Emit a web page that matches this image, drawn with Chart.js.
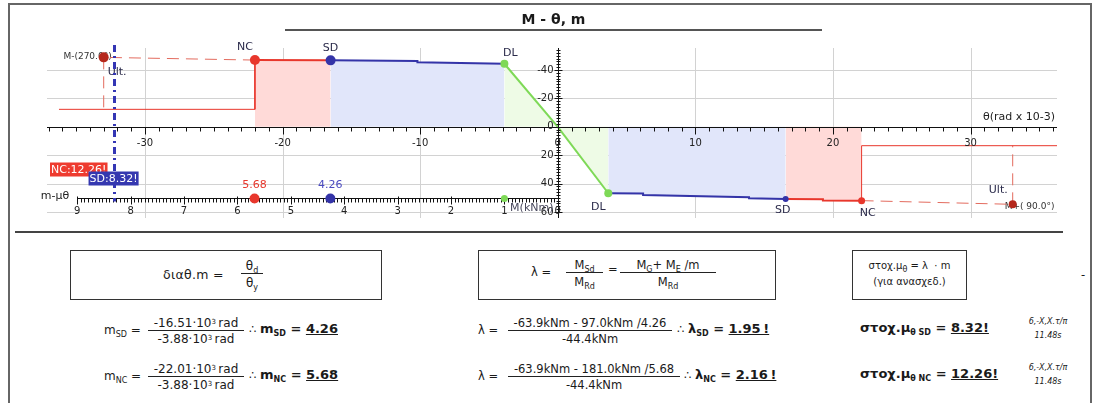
<!DOCTYPE html>
<html>
<head>
<meta charset="utf-8">
<script src="https://cdn.jsdelivr.net/npm/chart.js@4.4.1/dist/chart.umd.min.js"></script>
<style>
body{margin:0;width:1099px;height:403px;overflow:hidden;position:relative;background:#fff;font-family:"DejaVu Sans",sans-serif;color:#1a1a1a}
#frame{position:absolute;left:8px;top:3px;width:1084px;height:430px;border:2px solid #666;box-sizing:border-box}
#c{position:absolute;left:0;top:0}
#title{position:absolute;left:285px;top:10px;width:537px;height:19px;border-bottom:2px solid #555;text-align:center;font-weight:bold;font-size:14px;line-height:19px}
#sep{position:absolute;left:15px;top:231px;width:1048px;height:2px;background:#444}
.box{position:absolute;border:1px solid #333;box-sizing:border-box;top:250px;height:50px}
.t{position:absolute;white-space:nowrap;font-size:11.5px;line-height:14px}
.fr{position:absolute;text-align:center;font-size:11.5px;white-space:nowrap}
.fr div{line-height:14px;height:14px}
.fr .n{border-bottom:1px solid #222}
.fr.big12{font-size:12px}
sup{font-size:7px;vertical-align:top;position:relative;top:-1px}
sub{font-size:8px;vertical-align:baseline;position:relative;top:3px}
b{font-size:13px}
.big{font-size:13px;font-weight:bold}
.sm{position:absolute;font-style:italic;font-size:8px;line-height:14px;text-align:center;white-space:nowrap}
</style>
</head>
<body>
<div id="frame"></div>
<canvas id="c" width="1099" height="240"></canvas>
<div id="title">M - θ, m</div>
<div id="sep"></div>

<!-- definition boxes -->
<div class="box" style="left:70px;width:312px"></div>
<div class="t" style="left:163px;top:268px;font-size:12.5px;letter-spacing:0.3px">διαθ.m =</div>
<div class="fr" style="left:241px;top:259px;width:22px;font-size:12px"><div class="n">θ<sub>d</sub></div><div style="padding-top:2px">θ<sub>y</sub></div></div>

<div class="box" style="left:478px;width:298px"></div>
<div class="t" style="left:531px;top:265px">λ =</div>
<div class="fr" style="left:566px;top:258px;width:37px"><div class="n">M<sub>Sd</sub></div><div style="padding-top:2px">M<sub>Rd</sub></div></div>
<div class="t" style="left:608px;top:262px">=</div>
<div class="fr" style="left:620px;top:258px;width:96px"><div class="n">M<sub>G</sub>+ M<sub>E</sub> /m</div><div style="padding-top:2px">M<sub>Rd</sub></div></div>

<div class="box" style="left:852px;width:115px"></div>
<div class="t" style="left:852px;width:115px;text-align:center;top:259px;font-size:10px">στοχ.μ<sub>θ</sub> = λ &nbsp;· m</div>
<div class="t" style="left:852px;width:115px;text-align:center;top:275px;font-size:10px">(για ανασχεδ.)</div>
<div class="t" style="left:1081px;top:268px">-</div>

<!-- m rows -->
<div class="t" style="left:104px;top:323px;font-size:12px">m<sub>SD</sub> =</div>
<div class="fr big12" style="left:148px;top:316px;width:96px"><div class="n">-16.51·10<sup>3</sup>&thinsp;rad</div><div style="padding-top:1px">-3.88·10<sup>3</sup>&thinsp;rad</div></div>
<div class="t" style="left:249px;top:322px">∴ <b>m<sub>SD</sub> = <u>4.26</u></b></div>

<div class="t" style="left:104px;top:369px;font-size:12px">m<sub>NC</sub> =</div>
<div class="fr big12" style="left:148px;top:362px;width:96px"><div class="n">-22.01·10<sup>3</sup>&thinsp;rad</div><div style="padding-top:1px">-3.88·10<sup>3</sup>&thinsp;rad</div></div>
<div class="t" style="left:249px;top:368px">∴ <b>m<sub>NC</sub> = <u>5.68</u></b></div>

<!-- lambda rows -->
<div class="t" style="left:478px;top:323px">λ =</div>
<div class="fr" style="left:508px;top:316px;width:164px"><div class="n">-63.9kNm - 97.0kNm /4.26</div><div style="padding-top:1px">-44.4kNm</div></div>
<div class="t" style="left:677px;top:322px">∴ <b>λ<sub>SD</sub> = <u>1.95&thinsp;!</u></b></div>

<div class="t" style="left:478px;top:369px">λ =</div>
<div class="fr" style="left:508px;top:362px;width:172px"><div class="n">-63.9kNm - 181.0kNm /5.68</div><div style="padding-top:1px">-44.4kNm</div></div>
<div class="t" style="left:684px;top:368px">∴ <b>λ<sub>NC</sub> = <u>2.16&thinsp;!</u></b></div>

<!-- target ductility rows -->
<div class="t big" style="left:860px;top:321px">στοχ.μ<sub>θ SD</sub> = <u>8.32!</u></div>
<div class="t big" style="left:860px;top:367px">στοχ.μ<sub>θ NC</sub> = <u>12.26!</u></div>
<div class="sm" style="left:1027px;top:315px;width:42px">6,-X,X.τ/π<br>11.48s</div>
<div class="sm" style="left:1027px;top:361px;width:42px">6,-X,X.τ/π<br>11.48s</div>

<script>
// θ in rad x 10-3, M in kNm
const thetaY = -3.88; // m = θ / θy

// origin -> DL (elastic branch)
const elasticThetaNeg = [0, -3.88];
const elasticMNeg = [0, -44.4];
const elasticThetaPos = [0, 3.67];
const elasticMPos = [0, 46.8];

// DL -> SD
const sdThetaNeg = [-3.88, -10.2, -10.2, -16.51];
const sdMNeg = [-44.4, -45.4, -46.3, -46.8];
const sdThetaPos = [3.67, 6.2, 6.2, 13.9, 13.9, 16.56];
const sdMPos = [46.8, 47.0, 48.0, 49.6, 50.3, 50.8];

// SD -> NC
const ncThetaNeg = [-16.51, -22.01];
const ncMNeg = [-46.8, -47.0];
const ncThetaPos = [16.56, 19.27, 19.27, 22.08];
const ncMPos = [50.8, 51.0, 51.9, 52.0];

// residual branch after NC
const resThetaNeg = [-22.01, -22.01, -36.25];
const resMNeg = [-47.0, -12.3, -12.3];
const resThetaPos = [22.08, 22.08, 36.3];
const resMPos = [52.0, 13.3, 13.3];

// ultimate points
const ultTheta = [-33.0, 33.06];
const ultM = [-48.9, 54.6];
const ultLabels = ['M-(270.0°)', 'M+( 90.0°)'];

// limit state points
const stateNames = ['DL', 'SD', 'NC', 'DL', 'SD', 'NC'];
const stateTheta = [-3.88, -16.51, -22.01, 3.67, 16.56, 22.08];
const stateM = [-44.4, -46.8, -47.0, 46.8, 50.8, 52.0];

// axes
const thetaGrid = [-30, -20, -10, 10, 20, 30];
const thetaLabels = [-30, -20, -10, 0, 10, 20, 30];
const momentGrid = [-40, -20, 20, 40, 60];
const momentLabels = [-40, -20, 0, 20, 40, 60];
const mLabels = [9, 8, 7, 6, 5, 4, 3, 2, 1, 0];

// m - μθ axis
const mStateValues = [5.68, 4.26, 1];
const mStateLabels = ['5.68', '4.26', ''];
const targetNames = ['NC', 'SD'];
const targetValues = [12.26, 8.32];

const RED = '#E8372C', BLUE = '#3434A8', GREEN = '#7ED957';
const PINK_FILL = '#FFDAD8', BLUE_FILL = '#E1E6FA', GREEN_FILL = '#EEFBE6';
const DASH_RED = '#E36B5E', ULT_RED = '#B5281C';

const seg = (xs, ys) => xs.map((v, i) => ({x: v, y: ys[i]}));
const fillSet = (xs, ys, color) => ({data: seg(xs, ys), fill: 'origin', backgroundColor: color,
  borderWidth: 0, borderColor: color, pointRadius: 0, order: 10});
const lineSet = (xs, ys, color, width, dash) => ({data: seg(xs, ys), fill: false, borderColor: color,
  borderWidth: width, borderDash: dash || [], pointRadius: 0, order: 5});

const datasets = [
  fillSet(elasticThetaNeg, elasticMNeg, GREEN_FILL),
  fillSet(sdThetaNeg, sdMNeg, BLUE_FILL),
  fillSet(ncThetaNeg, ncMNeg, PINK_FILL),
  fillSet(elasticThetaPos, elasticMPos, GREEN_FILL),
  fillSet(sdThetaPos, sdMPos, BLUE_FILL),
  fillSet(ncThetaPos, ncMPos, PINK_FILL),
  lineSet(resThetaNeg, resMNeg, RED, 1),
  lineSet(resThetaPos, resMPos, RED, 1),
  lineSet([ncThetaNeg[1], ultTheta[0]], [ncMNeg[1], ultM[0]], DASH_RED, 1, [12, 7]),
  lineSet([ultTheta[0], ultTheta[0]], [ultM[0], resMNeg[2]], DASH_RED, 1, [12, 7]),
  lineSet([ncThetaPos[3], ultTheta[1]], [ncMPos[3], ultM[1]], DASH_RED, 1, [12, 7]),
  lineSet([ultTheta[1], ultTheta[1]], [ultM[1], resMPos[2]], DASH_RED, 1, [12, 7]),
  lineSet(elasticThetaNeg, elasticMNeg, GREEN, 2),
  lineSet(elasticThetaPos, elasticMPos, GREEN, 2),
  lineSet(sdThetaNeg, sdMNeg, BLUE, 2),
  lineSet(sdThetaPos, sdMPos, BLUE, 2),
  lineSet(ncThetaNeg, ncMNeg, RED, 2),
  lineSet(ncThetaPos, ncMPos, RED, 2),
  {data: seg(stateTheta, stateM), showLine: false, order: 1,
   pointRadius: [4, 5, 5, 4, 3, 3.5], pointBorderWidth: 0,
   pointBackgroundColor: [GREEN, BLUE, RED, GREEN, BLUE, RED]},
  {data: seg(ultTheta, ultM), showLine: false, order: 1,
   pointRadius: [5, 4], pointBorderWidth: 0, pointBackgroundColor: ULT_RED}
];

// label offsets of the limit states, relative to their points
const stateLabelOffsets = [[6, -11], [0, -12], [-10, -13], [-10, 14], [-3, 11], [6, 12]];

const mThetaPlugin = {
  id: 'mTheta',
  beforeDatasetsDraw(chart) {
    const {ctx, chartArea: a, scales: {x, y}} = chart;
    ctx.save();
    // grid
    ctx.strokeStyle = '#d2d2d2';
    ctx.lineWidth = 1;
    ctx.beginPath();
    thetaGrid.forEach(v => {
      const px = Math.round(x.getPixelForValue(v)) + 0.5;
      ctx.moveTo(px, a.top);
      ctx.lineTo(px, a.bottom + 6);
    });
    momentGrid.forEach(v => {
      const py = Math.round(y.getPixelForValue(v)) + 0.5;
      ctx.moveTo(a.left, py);
      ctx.lineTo(a.right, py);
    });
    ctx.stroke();

    // ultimate point labels (points are drawn over them)
    ctx.font = '9px "DejaVu Sans"';
    ctx.fillStyle = '#333';
    ctx.textBaseline = 'middle';
    ultLabels.forEach((text, i) => {
      const px = x.getPixelForValue(ultTheta[i]);
      const py = y.getPixelForValue(ultM[i]);
      if (i === 0) { ctx.textAlign = 'right'; ctx.fillText(text, px + 8, py - 1); }
      else { ctx.textAlign = 'left'; ctx.fillText(text, px - 8, py + 2); }
    });
    ctx.restore();
  },
  afterDatasetsDraw(chart) {
    const {ctx, chartArea: a, scales: {x, y}} = chart;
    const x0 = Math.round(x.getPixelForValue(0)) + 0.5;
    const y0 = Math.round(y.getPixelForValue(0)) + 0.5;
    const mPx = m => x.getPixelForValue(m * thetaY);
    const mY = y0 + 71;
    ctx.save();

    // θ axis and M axis
    ctx.strokeStyle = '#111';
    ctx.lineWidth = 1;
    ctx.beginPath();
    ctx.moveTo(a.left, y0);
    ctx.lineTo(a.right, y0);
    for (let v = Math.ceil(x.min); v <= x.max; v++) {
      const px = Math.round(x.getPixelForValue(v)) + 0.5;
      ctx.moveTo(px, y0);
      ctx.lineTo(px, y0 + (v % 10 === 0 ? 7 : 4));
    }
    ctx.moveTo(x0, a.top);
    ctx.lineTo(x0, a.bottom + 6);
    for (let v = -54; v <= 60; v += 2) {
      const py = Math.round(y.getPixelForValue(v)) + 0.5;
      const len = v % 20 === 0 ? 4 : 2;
      ctx.moveTo(x0 - len, py);
      ctx.lineTo(x0 + len, py);
    }
    // m axis
    ctx.moveTo(mPx(9), mY);
    ctx.lineTo(x0, mY);
    for (let i = 0; i <= 135; i++) {
      const px = Math.round(mPx(i / 15)) + 0.5;
      const major = i % 15 === 0;
      ctx.moveTo(px, mY - (major ? 2 : 0));
      ctx.lineTo(px, mY + (major ? 6 : 4));
    }
    ctx.stroke();

    ctx.font = '10px "DejaVu Sans"';
    ctx.fillStyle = '#222';
    ctx.textBaseline = 'middle';
    ctx.textAlign = 'center';
    thetaLabels.forEach(v => ctx.fillText(String(v), x.getPixelForValue(v), y0 + 16));
    mLabels.forEach(v => ctx.fillText(String(v), mPx(v), mY + 13));
    ctx.textAlign = 'right';
    momentLabels.forEach(v => ctx.fillText(String(v), x0 - 5, y.getPixelForValue(v)));

    ctx.font = '11px "DejaVu Sans"';
    ctx.fillText('θ(rad x 10-3)', a.right - 2, y0 - 10);
    ctx.fillText('m-μθ', mPx(9) - 8, mY - 2);
    ctx.fillStyle = '#4a4a5e';
    ctx.fillText('M(kNm)', x0 - 5, a.bottom - 4);

    // limit state labels
    ctx.fillStyle = '#2a2a4a';
    ctx.textAlign = 'center';
    stateNames.forEach((name, i) => {
      const [dx, dy] = stateLabelOffsets[i];
      ctx.fillText(name, x.getPixelForValue(stateTheta[i]) + dx, y.getPixelForValue(stateM[i]) + dy);
    });

    // Ult. labels
    ctx.textAlign = 'left';
    ctx.fillText('Ult.', x.getPixelForValue(ultTheta[0]) + 4, y.getPixelForValue(ultM[0]) + 15);
    ctx.textAlign = 'right';
    ctx.fillText('Ult.', x.getPixelForValue(ultTheta[1]) - 5, y.getPixelForValue(ultM[1]) - 14);

    // limit states on the m axis
    const mColors = [RED, BLUE, GREEN];
    const mTextColors = [RED, '#4a4ac0', GREEN];
    mStateValues.forEach((m, i) => {
      const px = mPx(m);
      ctx.fillStyle = mColors[i];
      ctx.beginPath();
      ctx.arc(px, mY, i === 2 ? 3.5 : 5, 0, 2 * Math.PI);
      ctx.fill();
      ctx.fillStyle = mTextColors[i];
      ctx.textAlign = 'center';
      ctx.fillText(mStateLabels[i], px, mY - 13);
    });

    // target ductility of SD
    const tx = Math.round(mPx(targetValues[1])) + 0.5;
    ctx.strokeStyle = '#3436B4';
    ctx.lineWidth = 3;
    ctx.setLineDash([7, 4, 2, 4]);
    ctx.beginPath();
    ctx.moveTo(tx, a.top - 3);
    ctx.lineTo(tx, mY + 3);
    ctx.stroke();
    ctx.setLineDash([]);

    // target boxes
    const targetColors = ['#EE3B2F', '#3538B0'];
    const targetDy = [-29, -20];
    ctx.font = '11px "DejaVu Sans"';
    targetNames.forEach((name, i) => {
      const text = `${name}:${targetValues[i]}!`;
      const w = ctx.measureText(text).width + 2;
      const cx = Math.max(mPx(targetValues[i]), a.left + 3 + w / 2);
      const cy = mY + targetDy[i];
      ctx.fillStyle = targetColors[i];
      ctx.fillRect(cx - w / 2, cy - 7, w, 14);
      ctx.fillStyle = '#fff';
      ctx.textAlign = 'center';
      ctx.fillText(text, cx, cy + 1);
    });
    ctx.restore();
  }
};

new Chart(document.getElementById('c'), {
  type: 'line',
  data: {datasets: datasets},
  options: {
    responsive: false,
    animation: false,
    layout: {padding: {left: 47, right: 42, top: 48, bottom: 28}},
    plugins: {legend: {display: false}, tooltip: {enabled: false}},
    elements: {line: {tension: 0}},
    scales: {
      x: {type: 'linear', min: -37.12, max: 36.28, display: false},
      y: {type: 'linear', min: -55.5, max: 60, reverse: true, display: false}
    }
  },
  plugins: [mThetaPlugin]
});
</script>
</body>
</html>
